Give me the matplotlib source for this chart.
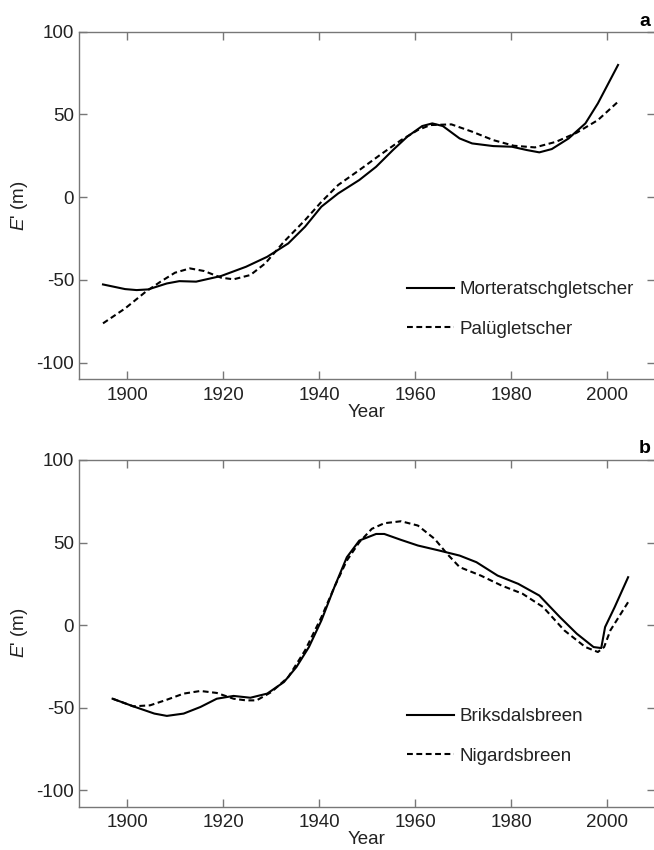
import numpy as np
import matplotlib
matplotlib.use("Agg")
import matplotlib.pyplot as plt

plt.rcParams['font.family'] = ['Liberation Sans', 'DejaVu Sans']
plt.rcParams['axes.unicode_minus'] = False
plt.rcParams['mathtext.fontset'] = 'custom'
plt.rcParams['mathtext.rm'] = 'Liberation Sans'
plt.rcParams['mathtext.it'] = 'Liberation Sans:italic'

# panel a
morter_year = [1895.0, 1899.6, 1902.0, 1904.4, 1908.3, 1910.9, 1914.4, 1919.6, 1924.8,
               1929.2, 1933.6, 1937.1, 1940.5, 1944.0, 1948.4, 1951.9, 1955.4, 1958.4,
               1961.5, 1963.6, 1965.8, 1969.3, 1971.9, 1976.3, 1980.2, 1983.3, 1985.9,
               1988.5, 1992.0, 1995.5, 1998.1, 2002.3]
morter_e = [-52.7, -55.5, -56.1, -55.7, -52.1, -50.7, -51.0, -47.6, -42.0,
            -36.0, -27.9, -17.8, -5.7, 2.3, 10.4, 18.4, 28.5, 36.6,
            43.0, 44.6, 43.0, 35.5, 32.5, 30.9, 30.5, 28.5, 27.1,
            29.1, 35.5, 44.6, 56.7, 79.9]

palu_year = [1895.0, 1899.6, 1903.9, 1907.0, 1910.0, 1913.1, 1916.1, 1919.6, 1922.2,
             1925.7, 1928.8, 1932.7, 1937.1, 1940.5, 1944.0, 1948.4, 1952.7, 1957.1,
             1960.6, 1963.2, 1967.6, 1971.9, 1976.3, 1980.6, 1985.0, 1989.4, 1993.7,
             1998.1, 2002.3]
palu_e = [-76.2, -67.2, -57.1, -51.0, -45.6, -43.0, -44.6, -48.6, -49.6,
          -47.0, -40.0, -26.9, -13.8, -2.8, 7.4, 16.4, 25.5, 34.5,
          40.6, 43.6, 44.0, 39.6, 34.5, 31.1, 30.1, 33.5, 39.0,
          46.6, 57.7]

# panel b
briks_year = [1897.0, 1901.3, 1905.7, 1908.3, 1911.8, 1915.3, 1918.7, 1922.2, 1925.7,
              1929.2, 1932.7, 1935.3, 1937.9, 1940.5, 1943.2, 1945.8, 1948.4, 1951.9,
              1953.6, 1957.1, 1960.6, 1965.0, 1969.3, 1972.8, 1977.2, 1981.5, 1985.9,
              1990.2, 1993.7, 1997.2, 1998.8, 1999.6, 2001.6, 2004.4]
briks_e = [-44.6, -49.2, -53.6, -55.0, -53.6, -49.6, -44.6, -42.9, -44.0,
           -41.5, -34.5, -25.4, -13.3, 2.8, 23.0, 41.1, 51.2, 55.2,
           55.2, 51.6, 48.2, 45.2, 42.1, 38.1, 30.0, 25.0, 17.9,
           4.8, -5.2, -13.3, -13.9, -1.2, 10.9, 29.0]

nigard_year = [1897.0, 1901.3, 1904.8, 1908.3, 1911.8, 1915.3, 1918.7, 1922.2, 1924.8,
               1927.0, 1930.1, 1933.6, 1937.1, 1940.5, 1943.2, 1945.8, 1948.4, 1951.0,
               1953.6, 1957.1, 1960.6, 1964.1, 1966.7, 1969.3, 1973.7, 1978.0, 1982.4,
               1986.7, 1991.1, 1995.5, 1998.1, 1999.4, 2000.7, 2004.4]
nigard_e = [-44.6, -49.2, -48.6, -45.2, -41.5, -39.9, -41.1, -44.6, -45.6,
            -45.6, -40.5, -31.5, -15.3, 4.8, 23.0, 39.1, 50.2, 58.3,
            61.7, 62.9, 60.3, 52.2, 43.1, 35.1, 30.0, 24.0, 19.0,
            10.9, -3.2, -13.3, -16.3, -13.3, -3.2, 13.9]

panels = [
    ('a', morter_year, morter_e, 'Morteratschgletscher', palu_year, palu_e, 'Palügletscher'),
    ('b', briks_year, briks_e, 'Briksdalsbreen', nigard_year, nigard_e, 'Nigardsbreen'),
]

fig = plt.figure(figsize=(6.54, 8.5), dpi=100)
W, H = 654, 850
boxes = [(79, 31.7, 655, 379.3), (79, 460, 655, 806.7)]
letter_y = [22, 449]
legend_top = [281, 708]
fs = 13.5

for (tag, x1, y1, l1, x2, y2, l2), (L, T, R, B), ly, lt in zip(panels, boxes, letter_y, legend_top):
    ax = fig.add_axes([L / W, 1 - B / H, (R - L) / W, (B - T) / H])
    ax.plot(x1, y1, color='black', lw=1.5, label=l1, solid_joinstyle='round')
    ax.plot(x2, y2, color='black', lw=1.5, ls=(0, (2.8, 1.7)), label=l2)
    ax.set_xlim(1890, 2010)
    ax.set_ylim(-110, 100)
    ax.set_xticks([1900, 1920, 1940, 1960, 1980, 2000])
    ax.set_yticks([-100, -50, 0, 50, 100])
    for s in ax.spines.values():
        s.set_color('#777777')
        s.set_linewidth(1.0)
    ax.tick_params(direction='in', top=True, right=True, length=6, width=1.0,
                   color='#777777', labelsize=fs, labelcolor='#222222')
    ax.tick_params(axis='x', pad=5.5)
    ax.tick_params(axis='y', pad=3.5)
    ax.set_xlabel('Year', fontsize=fs, color='#222222', labelpad=0)
    ax.set_ylabel("$E$' (m)", fontsize=fs, color='#222222')
    ax.yaxis.set_label_coords((30 - L) / (R - L), 0.5)
    leg = ax.legend(loc='upper left', bbox_to_anchor=((407 - L) / (R - L), (B - lt) / (B - T)),
                    frameon=False, fontsize=fs, handlelength=2.5, handletextpad=0.3,
                    labelspacing=1.2, borderpad=0, borderaxespad=0)
    for t in leg.get_texts():
        t.set_color('#222222')
    fig.text(645 / W, 1 - ly / H, tag, fontsize=14, fontweight='bold',
             ha='center', va='center')

fig.savefig('out.png', dpi=100)
